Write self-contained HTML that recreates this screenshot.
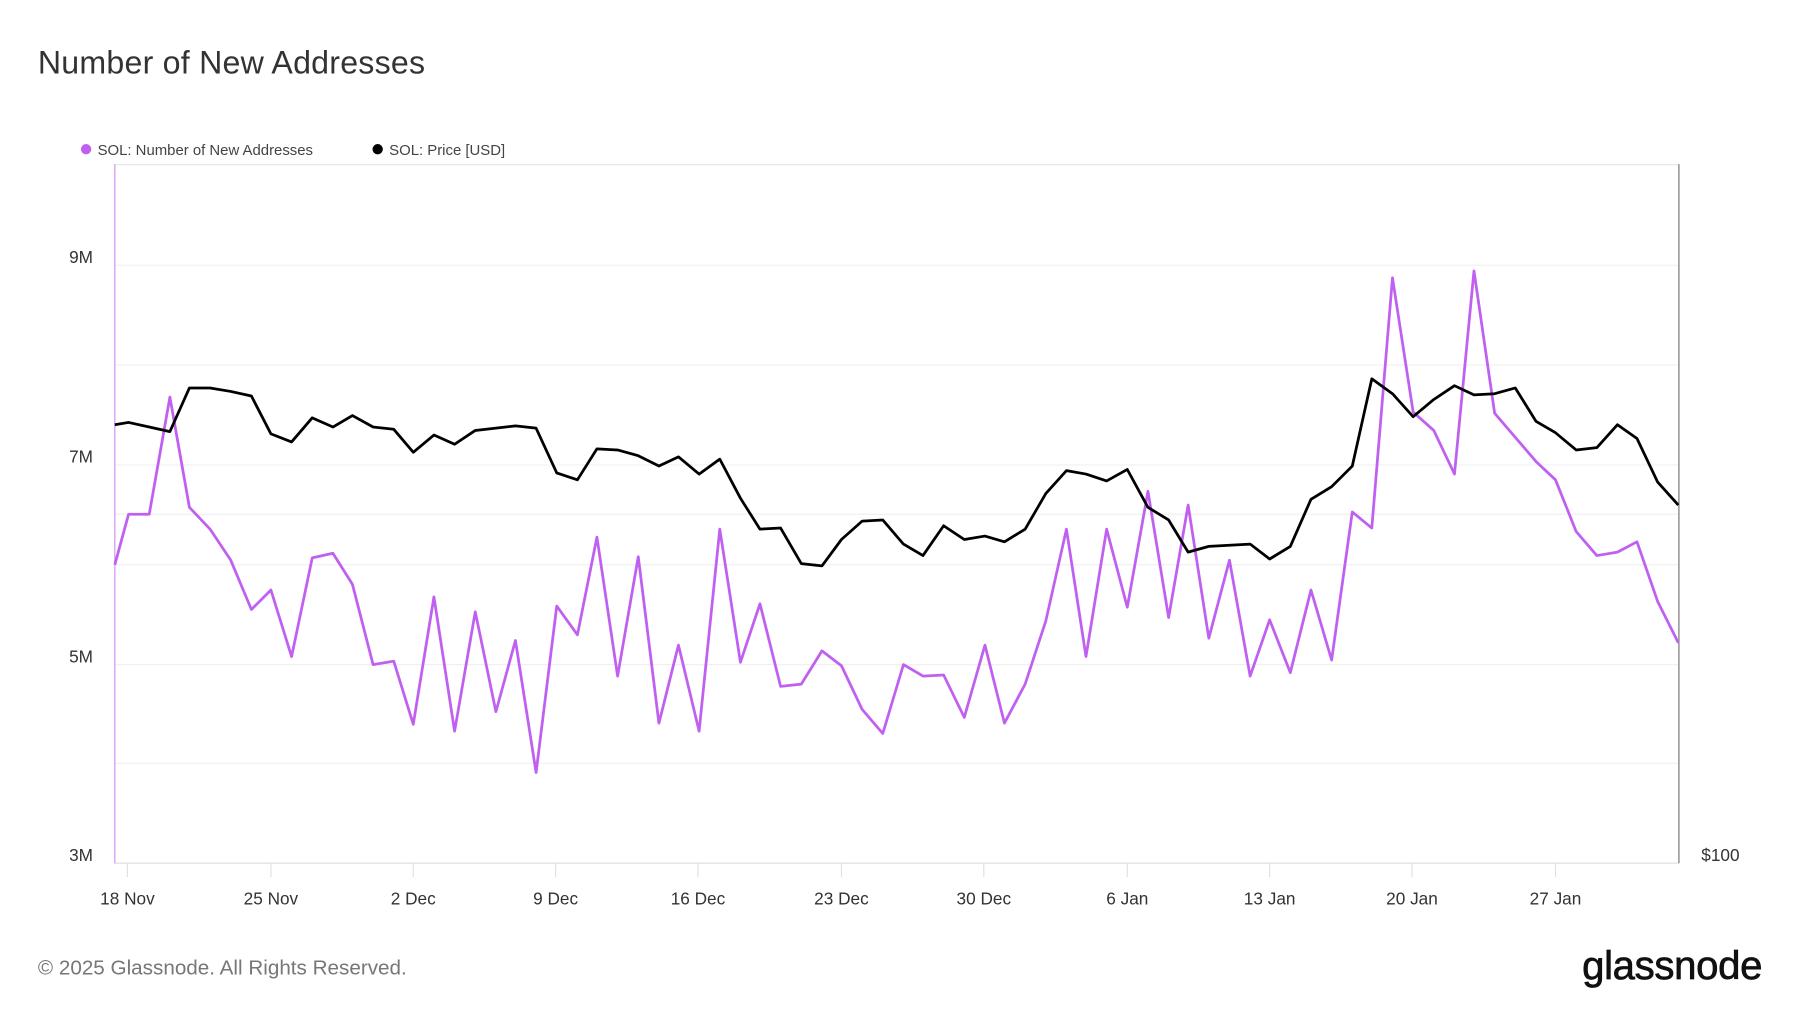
<!DOCTYPE html>
<html><head><meta charset="utf-8"><style>
html,body{margin:0;padding:0;background:#fff;}
svg{display:block;}
text{font-family:"Liberation Sans",sans-serif;}
</style></head><body>
<svg width="1800" height="1013" viewBox="0 0 1568 882.5" preserveAspectRatio="none" xmlns="http://www.w3.org/2000/svg">
<rect width="1568" height="883" fill="#fff"/>
<text x="33" y="64" font-size="28" letter-spacing="0.2" fill="#333">Number of New Addresses</text>
<circle cx="75" cy="130" r="4.5" fill="#c060f0"/>
<text x="85" y="135" font-size="13" fill="#444">SOL: Number of New Addresses</text>
<circle cx="329" cy="130" r="4.5" fill="#000"/>
<text x="339" y="135" font-size="13" fill="#444">SOL: Price [USD]</text>
<g stroke="#f0f0f0" stroke-width="1">
<line x1="100" x2="1462" y1="143.5" y2="143.5" stroke="#e6e6e6"/>
<line x1="100" x2="1462" y1="231" y2="231"/>
<line x1="100" x2="1462" y1="318" y2="318"/>
<line x1="100" x2="1462" y1="405" y2="405"/>
<line x1="100" x2="1462" y1="448" y2="448"/>
<line x1="100" x2="1462" y1="492" y2="492"/>
<line x1="100" x2="1462" y1="579" y2="579"/>
<line x1="100" x2="1462" y1="665" y2="665"/>
<line x1="100" x2="1462" y1="752" y2="752" stroke="#ddd"/>
</g>
<line x1="100" x2="100" y1="143" y2="752" stroke="#d9a0f5" stroke-width="1.2"/>
<line x1="1462.5" x2="1462.5" y1="143" y2="752" stroke="#888" stroke-width="1.2"/>
<g stroke="#e0e0e0"><line x1="111" x2="111" y1="752" y2="764"/><line x1="236" x2="236" y1="752" y2="764"/><line x1="360" x2="360" y1="752" y2="764"/><line x1="484" x2="484" y1="752" y2="764"/><line x1="608" x2="608" y1="752" y2="764"/><line x1="733" x2="733" y1="752" y2="764"/><line x1="857" x2="857" y1="752" y2="764"/><line x1="982" x2="982" y1="752" y2="764"/><line x1="1106" x2="1106" y1="752" y2="764"/><line x1="1230" x2="1230" y1="752" y2="764"/><line x1="1355" x2="1355" y1="752" y2="764"/></g>
<g font-size="15" fill="#333" text-anchor="end">
<text x="81" y="229">9M</text><text x="81" y="403">7M</text><text x="81" y="577">5M</text><text x="81" y="750">3M</text>
</g>
<text x="1482" y="750" font-size="15" fill="#333">$100</text>
<g font-size="15" fill="#333" text-anchor="middle">
<text x="111" y="788">18 Nov</text><text x="236" y="788">25 Nov</text><text x="360" y="788">2 Dec</text><text x="484" y="788">9 Dec</text><text x="608" y="788">16 Dec</text><text x="733" y="788">23 Dec</text><text x="857" y="788">30 Dec</text><text x="982" y="788">6 Jan</text><text x="1106" y="788">13 Jan</text><text x="1230" y="788">20 Jan</text><text x="1355" y="788">27 Jan</text>
</g>
<polyline fill="none" stroke="#c060f0" stroke-width="2.4" stroke-linejoin="round" points="100,492 112,448 130,448 148,346 165,442 183,461 201,488 219,531 236,514 254,572 272,486 290,482 307,509 325,579 343,576 360,631 378,520 396,637 414,533 432,620 449,558 467,673 485,528 503,553 520,468 538,589 556,485 574,630 591,562 609,637 627,461 645,577 662,526 680,598 698,596 716,567 733,580 751,618 769,639 787,579 804,589 822,588 840,625 858,562 875,630 893,596 911,541 929,461 946,572 964,461 982,529 1000,428 1018,538 1035,440 1053,556 1071,488 1089,589 1106,540 1124,586 1142,514 1160,575 1178,446 1195,460 1213,242 1231,359 1249,375 1267,413 1284,236 1302,360 1320,381 1338,402 1355,418 1373,463 1391,484 1409,481 1426,472 1444,524 1462,560"/>
<polyline fill="none" stroke="#000" stroke-width="2.4" stroke-linejoin="round" points="100,370 112,368 130,372 148,376 165,338 183,338 201,341 219,345 236,378 254,385 272,364 290,372 307,362 325,372 343,374 360,394 378,379 396,387 414,375 432,373 449,371 467,373 485,412 503,418 520,391 538,392 556,397 574,406 591,398 609,413 627,400 645,434 662,461 680,460 698,491 716,493 733,470 751,454 769,453 787,474 804,484 822,458 840,470 858,467 875,472 893,461 911,430 929,410 946,413 964,419 982,409 1000,442 1018,453 1035,481 1053,476 1071,475 1089,474 1106,487 1124,476 1142,435 1160,424 1178,406 1195,330 1213,343 1231,363 1249,348 1267,336 1284,344 1302,343 1320,338 1338,367 1355,377 1373,392 1391,390 1409,370 1426,382 1444,420 1462,440"/>
<text x="33" y="849" font-size="18" fill="#777">© 2025 Glassnode. All Rights Reserved.</text>
<text x="1535" y="853" font-size="35" fill="#111" stroke="#111" stroke-width="0.6" text-anchor="end" letter-spacing="-0.3">glassnode</text>
</svg>
</body></html>
